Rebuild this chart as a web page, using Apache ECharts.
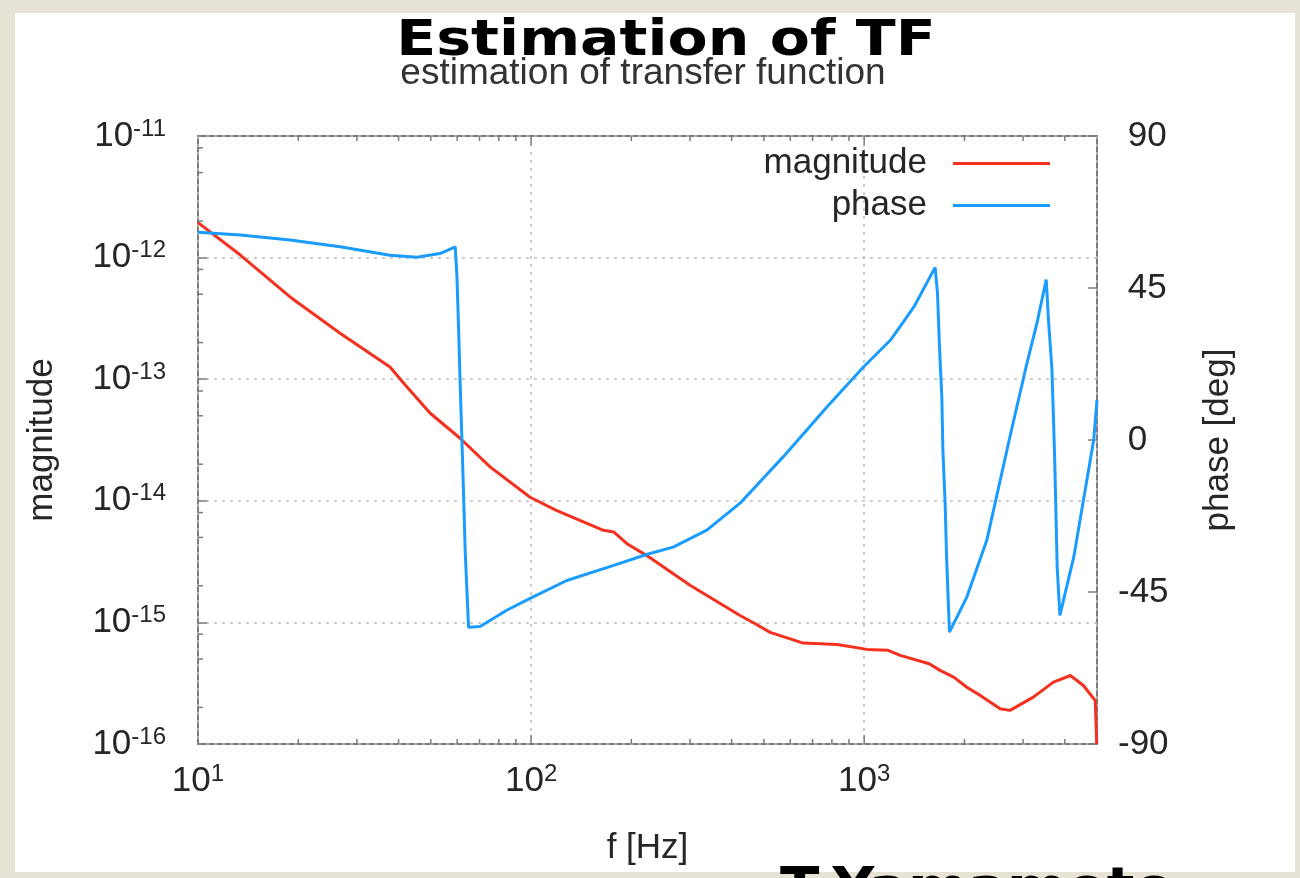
<!DOCTYPE html>
<html>
<head>
<meta charset="utf-8">
<script src="https://cdn.jsdelivr.net/npm/echarts@6/dist/echarts.min.js"></script>
<style>
html,body{margin:0;padding:0;background:#e6e2d4;}
#c{width:1300px;height:878px;}
</style>
</head>
<body>
<div id="c"></div>
<script>
// ---- data ----
const magFreq   = [10, 13.4, 18.9, 26.7, 37.7, 42.4, 49.8, 61.2, 75.3, 99.3, 119, 165, 177, 194, 222, 300, 424, 471, 522, 656, 830, 1020, 1180, 1283, 1567, 1690, 1862, 2033, 2230, 2560, 2740, 3220, 3700, 4160, 4550, 4940, 4990];
const magValues = [1.94e-12, 1.05e-12, 4.75e-13, 2.39e-13, 1.26e-13, 8.64e-14, 5.25e-14, 3.27e-14, 1.90e-14, 1.07e-14, 8.35e-15, 5.72e-15, 5.54e-15, 4.44e-15, 3.56e-15, 2.02e-15, 1.14e-15, 9.75e-16, 8.28e-16, 6.76e-16, 6.59e-16, 6.0e-16, 5.89e-16, 5.35e-16, 4.57e-16, 4.03e-16, 3.53e-16, 2.93e-16, 2.51e-16, 1.95e-16, 1.89e-16, 2.43e-16, 3.23e-16, 3.66e-16, 3.03e-16, 2.28e-16, 1.0e-16];

const phaseFreq   = [10, 13.4, 18.9, 26.7, 37.7, 45.4, 53.3, 59.2, 59.9, 60.6, 61.2, 61.9, 62.7, 63.4, 64.9, 70.3, 84.5, 99.3, 128, 177, 222, 267, 337, 424, 571, 773, 995, 1200, 1410, 1633, 1660, 1683, 1711, 1723, 1750, 1768, 1803, 2033, 2334, 2741, 3080, 3300, 3520, 3575, 3660, 3700, 3733, 3797, 3869, 4257, 4887, 5000];
const phaseValues = [61.5, 60.7, 59.2, 57.2, 54.7, 54.1, 55.2, 57.2, 48.3, 32.5, 17.7, 2.0, -15.8, -32.7, -55.4, -55.2, -50.4, -46.9, -41.6, -37.1, -33.9, -31.7, -26.7, -18.7, -5.0, 9.8, 21.6, 29.6, 39.4, 51.1, 43.5, 27.6, 12.4, -3.0, -18.7, -34.7, -56.9, -46.5, -29.7, 1.1, 22.7, 34.5, 47.5, 35.5, 21.2, 6.8, -6.0, -37.6, -51.9, -34.7, 0, 11.8];

const xTickExponents   = [1, 2, 3];
const magTickExponents = [-16, -15, -14, -13, -12, -11];
const phaseTicks       = [-90, -45, 0, 45, 90];
const seriesNames      = ['magnitude', 'phase'];

// ---- styles ----
const FONT = '"Liberation Sans", Arial, sans-serif';
const RED = '#f4301e';
const BLUE = '#1a9cff';
const FRAME = '#7c7c7c';
const TXT = '#262626';

const xMin = 10, xMax = 5000, yMin = 1e-16, yMax = 1e-11;

// minor tick positions (axis decoration)
const xMinorTicks = [];
for (let d = 10; d < xMax; d *= 10) for (let k = 2; k <= 9; k++) { if (k * d < xMax) xMinorTicks.push(k * d); }
const xMajorTicks = [100, 1000];
const yMinorTicks = [];
for (let e = -16; e < -11; e++) [2, 5, 8].forEach(k => yMinorTicks.push(k * Math.pow(10, e)));

const magData = magFreq.map((f, i) => [f, magValues[i]]);
const phaseData = phaseFreq.map((f, i) => [f, phaseValues[i]]);

const xTickData = xMinorTicks.map(f => [f, yMin, 5]).concat(xMajorTicks.map(f => [f, yMin, 9]));
const yTickData = yMinorTicks.map(m => [xMin, m, 5]);

function powLabel(v, list) {
  const l = Math.log10(v);
  const e = Math.round(l);
  if (Math.abs(l - e) > 1e-6 || list.indexOf(e) < 0) return '';
  return '{b|10}{s|' + e + '}';
}
const richLbl = {
  b: { fontSize: 35, fontFamily: FONT, color: TXT, lineHeight: 38 },
  s: { fontSize: 24, fontFamily: FONT, color: TXT, lineHeight: 22, verticalAlign: 'top' }
};

const chart = echarts.init(document.getElementById('c'), null, { renderer: 'canvas', width: 1300, height: 878 });

const option = {
  animation: false,
  backgroundColor: '#e6e2d4',
  graphic: [
    { type: 'rect', z: -10, shape: { x: 15, y: 13, width: 1280, height: 859 }, style: { fill: '#ffffff' } },
    { type: 'text', z: 10, x: 666, y: 42, scaleX: 1.17, style: { text: 'Estimation of TF', font: 'bold 50px "DejaVu Sans"', fill: '#000', align: 'center', verticalAlign: 'middle' } },
    { type: 'text', z: 10, x: 643, y: 74, style: { text: 'estimation of transfer function', font: '37px "Liberation Sans"', fill: '#333', align: 'center', verticalAlign: 'middle' } },
    { type: 'text', z: 10, x: 780, y: 891, scaleX: 1.03, style: { text: 'T.Yamamoto', font: 'bold 56px "DejaVu Sans"', fill: '#000', align: 'left', verticalAlign: 'middle' } }
  ],
  grid: {
    left: 198, right: 203, top: 136, bottom: 134,
    show: true, borderColor: FRAME, borderWidth: 2, backgroundColor: 'transparent'
  },
  legend: {
    data: seriesNames,
    orient: 'vertical',
    right: 245, top: 141,
    align: 'right',
    icon: 'rect',
    itemWidth: 97, itemHeight: 3, itemGap: 7,
    selectedMode: false,
    textStyle: { fontFamily: FONT, fontSize: 35, color: TXT, padding: [0, 21, 0, 0] }
  },
  xAxis: {
    type: 'log', logBase: 10, min: xMin, max: xMax,
    name: 'f [Hz]', nameLocation: 'middle', nameGap: 87,
    nameTextStyle: { fontFamily: FONT, fontSize: 35, color: TXT },
    axisLine: { show: false },
    axisTick: { show: false },
    axisLabel: { margin: 18, formatter: v => powLabel(v, xTickExponents), rich: richLbl, showMinLabel: true, showMaxLabel: true, hideOverlap: false },
    splitLine: { show: true, lineStyle: { color: '#bdbdbd', width: 1.5, type: [3, 5] } },
    minorTick: { show: false }
  },
  yAxis: [
    {
      type: 'log', logBase: 10, min: yMin, max: yMax, position: 'left',
      name: 'magnitude', nameLocation: 'middle', nameGap: 138, nameRotate: 90,
      nameTextStyle: { fontFamily: FONT, fontSize: 35, color: TXT },
      axisLine: { show: false },
      axisTick: { show: true, inside: true, length: 9, lineStyle: { color: FRAME, width: 1.5 } },
      axisLabel: { margin: 32, formatter: v => powLabel(v, magTickExponents), rich: richLbl, showMinLabel: true, showMaxLabel: true },
      splitLine: { show: true, lineStyle: { color: '#bdbdbd', width: 1.5, type: [3, 5] } }
    },
    {
      type: 'value', min: -90, max: 90, interval: 45, position: 'right',
      name: 'phase [deg]', nameLocation: 'middle', nameGap: 104, nameRotate: 90,
      nameTextStyle: { fontFamily: FONT, fontSize: 35, color: TXT },
      axisLine: { show: false },
      axisTick: { show: true, inside: true, length: 9, lineStyle: { color: FRAME, width: 1.5 } },
      axisLabel: {
        margin: 21, fontFamily: FONT, fontSize: 35, color: TXT,
        formatter: v => (phaseTicks.indexOf(v) < 0 ? '' : (v >= 0 ? ' ' + v : '' + v))
      },
      splitLine: { show: false }
    }
  ],
  series: [
    {
      type: 'custom', name: 'xticks', xAxisIndex: 0, yAxisIndex: 0, silent: true, clip: false, z: 5,
      data: xTickData, encode: { x: 0, y: 1 },
      renderItem: function (params, api) {
        const f = api.value(0), len = api.value(2);
        const pb = api.coord([f, yMin]);
        const pt = api.coord([f, yMax]);
        const st = { stroke: FRAME, lineWidth: 1.5 };
        return { type: 'group', children: [
          { type: 'line', shape: { x1: pb[0], y1: pb[1], x2: pb[0], y2: pb[1] - len }, style: st },
          { type: 'line', shape: { x1: pt[0], y1: pt[1], x2: pt[0], y2: pt[1] + len }, style: st }
        ] };
      }
    },
    {
      type: 'custom', name: 'yticks', xAxisIndex: 0, yAxisIndex: 0, silent: true, clip: false, z: 5,
      data: yTickData, encode: { x: 0, y: 1 },
      renderItem: function (params, api) {
        const m = api.value(1), len = api.value(2);
        const p = api.coord([xMin, m]);
        return { type: 'line', shape: { x1: p[0], y1: p[1], x2: p[0] + len, y2: p[1] }, style: { stroke: FRAME, lineWidth: 1.5 } };
      }
    },
    {
      type: 'line', name: seriesNames[0], xAxisIndex: 0, yAxisIndex: 0,
      data: magData, showSymbol: false, symbol: 'none', z: 3,
      color: RED, itemStyle: { color: RED }, lineStyle: { color: RED, width: 3 }
    },
    {
      type: 'line', name: seriesNames[1], xAxisIndex: 0, yAxisIndex: 1,
      data: phaseData, showSymbol: false, symbol: 'none', z: 4,
      color: BLUE, itemStyle: { color: BLUE }, lineStyle: { color: BLUE, width: 3 }
    }
  ]
};
chart.setOption(option);
</script>
</body>
</html>
